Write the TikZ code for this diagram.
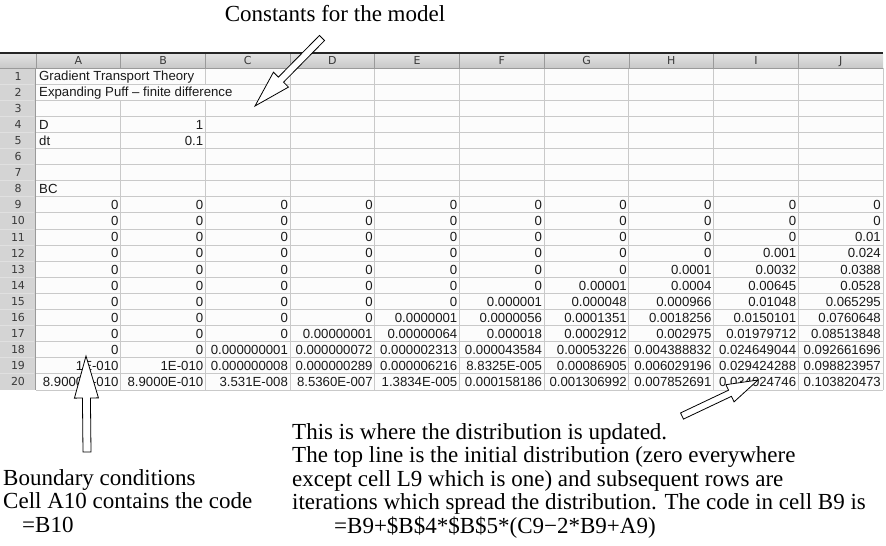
\documentclass[tikz,border=0pt]{standalone}
\usepackage{fontspec}
\setmainfont{Liberation Serif}
\newfontfamily\cellfont{Liberation Sans}
\newfontfamily\headfont{DejaVu Sans}
\usetikzlibrary{calc}
\definecolor{gridgray}{HTML}{C9C9C9}
\definecolor{hdrtop}{HTML}{E4E4E4}
\definecolor{hdrbot}{HTML}{C8C8C8}
\definecolor{rowhdr}{HTML}{D4D4D4}
\definecolor{hdrline}{HTML}{9A9A9A}
\definecolor{cellbg}{HTML}{FCFCFC}
\definecolor{celltext}{HTML}{1A1A1A}
\definecolor{hdrtext}{HTML}{3A3A3A}
\newcommand{\colw}{84.7}
\newcommand{\rowh}{16.1}
% hollow block arrow: tail, tip, shaft half width, head half width, head length
\newcommand{\hollowarrow}[5]{%
  \path ($(#2)!#5!(#1)$) coordinate (neck);
  \draw[outline] ($(#1)!#3!90:(#2)$) -- ($(neck)!#3!90:(#2)$) -- ($(neck)!#4!90:(#2)$) -- (#2)
    -- ($(neck)!#4!-90:(#2)$) -- ($(neck)!#3!-90:(#2)$) -- ($(#1)!#3!-90:(#2)$) -- cycle;}
\tikzset{
  cell/.style    = {inner sep=0pt, font=\cellfont\fontsize{13.2}{15}\selectfont, text=celltext},
  num/.style     = {cell, anchor=base east},
  lbl/.style     = {cell, anchor=base west},
  hdr/.style     = {inner sep=0pt, anchor=base, font=\headfont\fontsize{11}{13}\selectfont, text=hdrtext},
  grid/.style    = {draw=gridgray, line width=0.9pt},
  note/.style    = {inner sep=0pt, align=left, anchor=north west, font=\fontsize{23}{23.5}\selectfont},
  outline/.style = {draw=black, fill=white, line width=0.8pt, line join=miter},
}

\begin{document}
\begin{tikzpicture}[x=1pt, y=-1pt]
  \useasboundingbox (0,0) rectangle (886,546);
  % sheet background, column header row and row header column
  \fill[cellbg] (36,68) rectangle (883,390);
  \fill[top color=hdrtop, bottom color=hdrbot] (0,53) rectangle (883,68);
  \fill[rowhdr] (0,68) rectangle (36,390);
  % grid
  \foreach \r in {1,...,20}
    \draw[grid] (36,{68+\rowh*\r}) -- (883,{68+\rowh*\r});
  \foreach \r in {1,...,19}
    \draw[white!88!black, line width=0.9pt] (0,{68+\rowh*\r}) -- (34,{68+\rowh*\r});
  \draw[grid] ({36+\colw},{68+2*\rowh}) -- ({36+\colw},390);
  \draw[grid] ({36+2*\colw},68) -- ({36+2*\colw},{68+\rowh}) ({36+2*\colw},{68+2*\rowh}) -- ({36+2*\colw},390);
  \foreach \c in {3,...,10}
    \draw[grid] ({36+\colw*\c},68) -- ({36+\colw*\c},390);
  \foreach \c in {0,...,9}
    \draw[hdrline, line width=0.8pt] ({36+\colw*\c},53) -- ({36+\colw*\c},68);
  \draw[hdrline, line width=1.4pt] (35.3,68) -- (35.3,390);
  \draw[hdrline, line width=0.8pt] (0,68) -- (883,68);
  \draw[black!85, line width=1.2pt] (0,53) -- (883,53);

  % headers
  \foreach \h [count=\c] in {A,B,C,D,E,F,G,H,I,J}
    \node[hdr] (h\h) at ({36+\colw*(\c-0.5)},64.5) {\h};
  \foreach \r in {1,...,20}
    \node[hdr] (n\r) at (18,{68+\rowh*(\r-0.5)+4}) {\r};

  % constants
  \node[lbl] (title) at (39,{68+\rowh*0.5+4.8}) {Gradient Transport Theory};
  \node[lbl] (subtitle) at (39,{68+\rowh*1.5+4.8}) {Expanding Puff – finite difference};
  \node[lbl] (dlbl) at (39,{68+\rowh*3.5+4.8}) {D};
  \node[num] (dval) at ({36+2*\colw-2},{68+\rowh*3.5+4.8}) {1};
  \node[lbl] (dtlbl) at (39,{68+\rowh*4.5+4.8}) {dt};
  \node[num] (dtval) at ({36+2*\colw-2},{68+\rowh*4.5+4.8}) {0.1};
  \node[lbl] (bclbl) at (39,{68+\rowh*7.5+4.8}) {BC};

  % distribution, one row per time step
  \foreach \r/\vals in {
      9/{0,0,0,0,0,0,0,0,0,0},
      10/{0,0,0,0,0,0,0,0,0,0},
      11/{0,0,0,0,0,0,0,0,0,0.01},
      12/{0,0,0,0,0,0,0,0,0.001,0.024},
      13/{0,0,0,0,0,0,0,0.0001,0.0032,0.0388},
      14/{0,0,0,0,0,0,0.00001,0.0004,0.00645,0.0528},
      15/{0,0,0,0,0,0.000001,0.000048,0.000966,0.01048,0.065295},
      16/{0,0,0,0,0.0000001,0.0000056,0.0001351,0.0018256,0.0150101,0.0760648},
      17/{0,0,0,0.00000001,0.00000064,0.000018,0.0002912,0.002975,0.01979712,0.08513848},
      18/{0,0,0.000000001,0.000000072,0.000002313,0.000043584,0.00053226,0.004388832,0.024649044,0.092661696},
      19/{1E-010,1E-010,0.000000008,0.000000289,0.000006216,8.8325E-005,0.00086905,0.006029196,0.029424288,0.098823957},
      20/{8.9000E-010,8.9000E-010,3.531E-008,8.5360E-007,1.3834E-005,0.000158186,0.001306992,0.007852691,0.034024746,0.103820473}}
    \foreach \v [count=\c] in \vals
      \node[num] (v\r-\c) at ({36+\colw*\c-2},{68+\rowh*(\r-0.5)+4.8}) {\v};

  % notes
  \node[note, anchor=center] (consts) at (335,14) {Constants for the model};
  \node[note] (bc) at (3,469) {Boundary conditions\\Cell A10 contains the code\\\hspace*{19pt}=B10};
  \node[note] (upd) at (292,423) {This is where the distribution is updated.\\
    The top line is the initial distribution (zero everywhere\\
    except cell L9 which is one) and subsequent rows are\\
    iterations which spread the distribution. The code in cell B9 is\\
    \hspace*{42pt}=B9+\$B\$4*\$B\$5*(C9−2*B9+A9)};

  % pointers
  \coordinate (constsTail) at (322,38);
  \coordinate (constsTip) at (255,106);
  \coordinate (bcTail) at (87,452);
  \coordinate (bcTip) at (86,356);
  \coordinate (updTail) at (682,416);
  \coordinate (updTip) at (758,380);
  \hollowarrow{constsTail}{constsTip}{3.6pt}{10.6pt}{37pt}
  \hollowarrow{bcTail}{bcTip}{4pt}{12pt}{42pt}
  \hollowarrow{updTail}{updTip}{3.4pt}{9.5pt}{31pt}
\end{tikzpicture}
\end{document}
